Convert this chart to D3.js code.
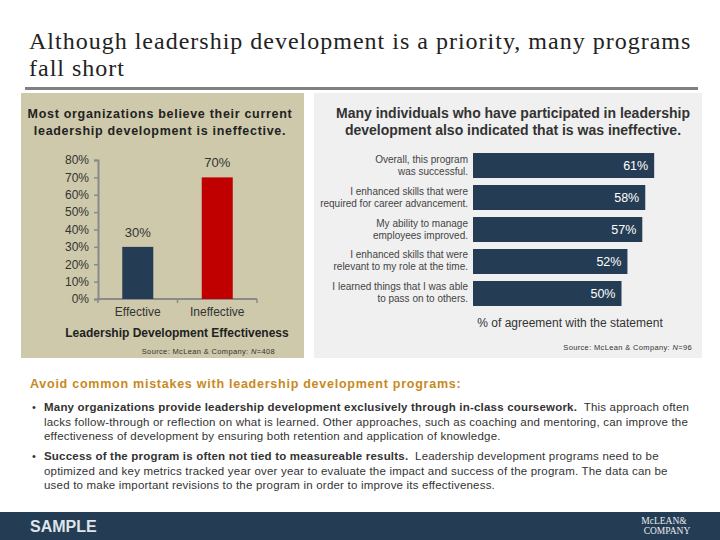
<!DOCTYPE html>
<html>
<head>
<meta charset="utf-8">
<script src="https://cdn.jsdelivr.net/npm/d3@7"></script>
<style>
  html, body { margin: 0; padding: 0; background: #ffffff; }
  svg { display: block; }
  text { font-family: "Liberation Sans", Arial, sans-serif; }
</style>
</head>
<body>
<svg id="chart" width="720" height="540"></svg>
<script>
// ---------- data ----------
const pageTitle = ["Although leadership development is a priority, many programs", "fall short"];

const leftTitle = ["Most organizations believe their current", "leadership development is ineffective."];
const leftCategories = ["Effective", "Ineffective"];
const leftValues = [30, 70];
const leftTicks = [0, 10, 20, 30, 40, 50, 60, 70, 80];
const leftAxisTitle = "Leadership Development Effectiveness";
const leftSource = "408";

const rightTitle = ["Many individuals who have participated in leadership", "development also indicated that is was ineffective."];
const rightStatements = [
  ["Overall, this program", "was successful."],
  ["I enhanced skills that were", "required for career advancement."],
  ["My ability to manage", "employees improved."],
  ["I enhanced skills that were", "relevant to my role at the time."],
  ["I learned things that I was able", "to pass on to others."]
];
const rightValues = [61, 58, 57, 52, 50];
const rightAxisTitle = "% of agreement with the statement";
const rightSource = "96";

const notesHeading = "Avoid common mistakes with leadership development programs:";
const notesBullets = [
  [[{b: true, t: "Many organizations provide leadership development exclusively through in-class coursework."}, {b: false, t: "  This approach often"}],
   [{b: false, t: "lacks follow-through or reflection on what is learned. Other approaches, such as coaching and mentoring, can improve the"}],
   [{b: false, t: "effectiveness of development by ensuring both retention and application of knowledge."}]],
  [[{b: true, t: "Success of the program is often not tied to measureable results."}, {b: false, t: "  Leadership development programs need to be"}],
   [{b: false, t: "optimized and key metrics tracked year over year to evaluate the impact and success of the program. The data can be"}],
   [{b: false, t: "used to make important revisions to the program in order to improve its effectiveness."}]]
];

// ---------- styles ----------
const navy = "#253d54";
const red = "#c00000";
const beige = "#cdc9aa";
const lightGray = "#f0f0f0";

const svg = d3.select("#chart");

// page title
const tt = svg.append("text")
  .style("font-family", "'Liberation Serif', 'Times New Roman', serif")
  .style("font-size", "24px")
  .style("letter-spacing", "1px")
  .attr("fill", "#222");
pageTitle.forEach((l, i) => tt.append("tspan").attr("x", 29).attr("y", 49 + i * 27).text(l));

// rule
svg.append("rect").attr("x", 25).attr("y", 87).attr("width", 673).attr("height", 3).attr("fill", "#808080");

// ---------- left panel ----------
svg.append("rect").attr("x", 21).attr("y", 93).attr("width", 283).attr("height", 265).attr("fill", beige);

const lt = svg.append("text").attr("text-anchor", "middle")
  .style("font-size", "12.5px").style("font-weight", "bold").style("letter-spacing", "0.7px").attr("fill", "#222");
leftTitle.forEach((l, i) => lt.append("tspan").attr("x", 160).attr("y", 118 + i * 17).text(l));

const ly = d3.scaleLinear().domain([0, 80]).range([299, 160]);
const lx = d3.scaleBand().domain(leftCategories).range([98, 257]).paddingInner(0.61).paddingOuter(0.305);

const yAxisL = svg.append("g").attr("transform", "translate(98,0)")
  .call(d3.axisLeft(ly).tickValues(leftTicks).tickFormat(d => d + "%").tickSize(4).tickPadding(5));
yAxisL.select(".domain").attr("stroke", "#8a8a8a").attr("stroke-width", 2);
yAxisL.selectAll(".tick line").attr("stroke", "#8a8a8a").attr("stroke-width", 1.5);
yAxisL.selectAll(".tick text").style("font-size", "12px").style("font-family", "'Liberation Sans', Arial, sans-serif").attr("fill", "#333");

// x axis line with boundary ticks
const xAxisL = svg.append("g").attr("transform", "translate(0,299)");
xAxisL.append("line").attr("x1", 97).attr("x2", 257).attr("stroke", "#8a8a8a").attr("stroke-width", 2);
const bTicks = [lx.range()[0], (lx(leftCategories[0]) + lx(leftCategories[1]) + lx.bandwidth()) / 2, lx.range()[1]];
xAxisL.selectAll("line.bt").data(bTicks).enter().append("line").attr("class", "bt")
  .attr("x1", d => d).attr("x2", d => d).attr("y1", 0).attr("y2", 4)
  .attr("stroke", "#8a8a8a").attr("stroke-width", 1.5);

svg.selectAll("rect.lbar").data(leftValues).enter().append("rect").attr("class", "lbar")
  .attr("x", (d, i) => lx(leftCategories[i]))
  .attr("y", d => ly(d))
  .attr("width", lx.bandwidth())
  .attr("height", d => ly(0) - ly(d))
  .attr("fill", (d, i) => i === 0 ? navy : red);

svg.selectAll("text.lval").data(leftValues).enter().append("text").attr("class", "lval")
  .attr("x", (d, i) => lx(leftCategories[i]) + lx.bandwidth() / 2)
  .attr("y", d => ly(d) - 10)
  .attr("text-anchor", "middle")
  .style("font-size", "13px").attr("fill", "#333")
  .text(d => d + "%");

svg.selectAll("text.lcat").data(leftCategories).enter().append("text").attr("class", "lcat")
  .attr("x", d => lx(d) + lx.bandwidth() / 2)
  .attr("y", 316)
  .attr("text-anchor", "middle")
  .style("font-size", "12px").attr("fill", "#333")
  .text(d => d);

svg.append("text").attr("x", 177).attr("y", 337).attr("text-anchor", "middle")
  .style("font-size", "12px").style("font-weight", "bold").attr("fill", "#222")
  .text(leftAxisTitle);

function source(x, y, n) {
  const s = svg.append("text").attr("x", x).attr("y", y).attr("text-anchor", "end")
    .style("font-size", "7.5px").style("letter-spacing", "0.35px").attr("fill", "#333");
  s.append("tspan").text("Source: McLean & Company: ");
  s.append("tspan").style("font-style", "italic").text("N");
  s.append("tspan").text("=" + n);
}
source(275, 354, leftSource);

// ---------- right panel ----------
svg.append("rect").attr("x", 314).attr("y", 93).attr("width", 388).attr("height", 265).attr("fill", lightGray);

const rt = svg.append("text").attr("text-anchor", "middle")
  .style("font-size", "14px").style("font-weight", "bold").attr("fill", "#333");
rightTitle.forEach((l, i) => rt.append("tspan").attr("x", 513).attr("y", 118 + i * 17).text(l));

const rx = d3.scaleLinear().domain([0, 100]).range([473, 770]);
const ry = d3.scaleBand().domain(d3.range(rightValues.length)).range([149.5, 309.5]).paddingInner(0.219).paddingOuter(0.11);

svg.selectAll("rect.rbar").data(rightValues).enter().append("rect").attr("class", "rbar")
  .attr("x", rx(0))
  .attr("y", (d, i) => ry(i))
  .attr("width", d => rx(d) - rx(0))
  .attr("height", ry.bandwidth())
  .attr("fill", navy);

svg.selectAll("text.rval").data(rightValues).enter().append("text").attr("class", "rval")
  .attr("x", d => rx(d) - 6)
  .attr("y", (d, i) => ry(i) + ry.bandwidth() / 2 + 4.5)
  .attr("text-anchor", "end")
  .style("font-size", "12.5px").attr("fill", "#ffffff")
  .text(d => d + "%");

rightStatements.forEach((lines, i) => {
  const t = svg.append("text").attr("text-anchor", "end")
    .style("font-size", "10px").attr("fill", "#444");
  const cy = ry(i) + ry.bandwidth() / 2;
  lines.forEach((l, j) => t.append("tspan").attr("x", 468).attr("y", cy - 3 + j * 12).text(l));
});

svg.append("text").attr("x", 570).attr("y", 327).attr("text-anchor", "middle")
  .style("font-size", "12px").attr("fill", "#333")
  .text(rightAxisTitle);

source(692, 350, rightSource);

// ---------- notes ----------
svg.append("text").attr("x", 30).attr("y", 388)
  .style("font-size", "12.5px").style("font-weight", "bold").style("letter-spacing", "0.75px").attr("fill", "#c8891e")
  .text(notesHeading);

const bulletStarts = [411, 460];
notesBullets.forEach((para, pi) => {
  svg.append("text").attr("x", 32).attr("y", bulletStarts[pi])
    .style("font-size", "11px").attr("fill", "#333").text("•");
  para.forEach((line, li) => {
    const t = svg.append("text").attr("x", 44).attr("y", bulletStarts[pi] + li * 14.5)
      .style("font-size", "11.5px").style("letter-spacing", "0.2px").attr("fill", "#333").attr("xml:space", "preserve");
    line.forEach(seg => t.append("tspan").style("font-weight", seg.b ? "bold" : "normal").text(seg.t));
  });
});

// ---------- footer ----------
svg.append("rect").attr("x", 0).attr("y", 512).attr("width", 720).attr("height", 28).attr("fill", navy);
svg.append("text").attr("x", 30).attr("y", 532)
  .style("font-size", "16px").style("font-weight", "bold").attr("fill", "#dfe5ea")
  .text("SAMPLE");
const logo = svg.append("text").attr("text-anchor", "middle")
  .style("font-family", "'Liberation Serif', 'Times New Roman', serif")
  .style("font-size", "9.5px").attr("fill", "#e8ecef");
logo.append("tspan").attr("x", 664).attr("y", 524).text("McLEAN&");
logo.append("tspan").attr("x", 667).attr("y", 534).text("COMPANY");
</script>
</body>
</html>
